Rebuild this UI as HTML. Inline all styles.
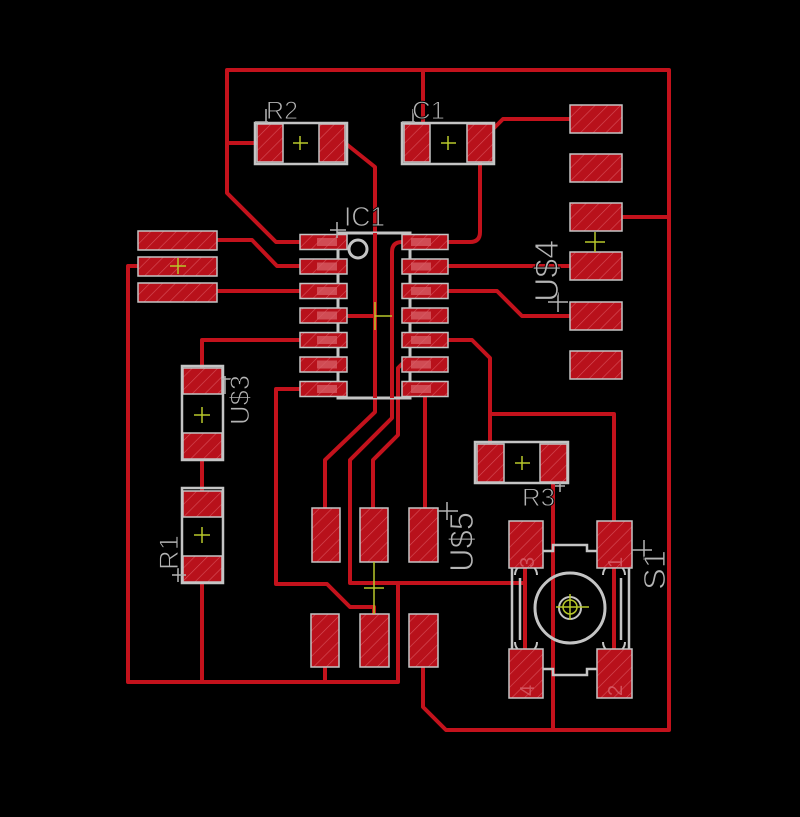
<!DOCTYPE html>
<html><head><meta charset="utf-8"><style>
html,body{margin:0;padding:0;background:#000}
svg{display:block}
text{font-family:"Liberation Sans",sans-serif;fill:#b4b4b4}
.lbl{stroke:#000;stroke-width:0.9}
.num{fill:#d8606a;opacity:0.8}
</style></head><body>
<svg width="800" height="817" viewBox="0 0 800 817" xmlns="http://www.w3.org/2000/svg">
<defs>
<pattern id="h" width="9" height="9" patternUnits="userSpaceOnUse" patternTransform="rotate(45)">
<rect width="9" height="9" fill="#b8111b"/>
<line x1="0" y1="0" x2="0" y2="9" stroke="#d8505a" stroke-width="1.2"/>
</pattern>
</defs>
<rect width="800" height="817" fill="#000"/>
<path fill="none" stroke="#c3121c" stroke-width="4" stroke-linecap="round" stroke-linejoin="round" d="M423,667 V707 L446,730 H669 V70 H227 V193 L276,242 H300 M227,143 H257 M423,70 V124 M669,217 H622 M345,143 L375,167 V412 L325,460 V508 M347,316 H375 M492,130 L503,119 H570 M480,162 V232 Q480,242 470,242 H448 M402,242 Q392,242 392,252 V418 L350,460 V583 H525 M525,567 V650 M398,583 V682 H128 V266 H138 M202,682 V582 M325,682 V667 M402,364 L398,368 V435 L373,460 V508 M425,389 V508 M448,266 H570 M448,291 H497 L522,316 H570 M448,340 H472 L490,358 V444 M490,414 H614 V521 M614,568 V649 M553,482 V730 M217,240 H252 L277,266 H300 M217,291 H300 M300,340 H202 V368 M202,459 V491 M300,389 H276 V584 H327 L350,607 H374 V614"/>
<g fill="none" stroke="#c4c4c4" stroke-width="2.5">
<path d="M255,123 h92 v41 h-92z M402,123 h92 v41 h-92z M475,442 h93 v41 h-93z M182,366 h41 v94 h-41z M182,488 h41 v95 h-41z"/>
<rect x="338" y="233" width="72" height="165" stroke-width="3"/>
<circle cx="358" cy="249" r="9" stroke-width="3"/>
<path d="M543,551 H553 V545 H587 V551 H597 M543,669 H553 V675 H587 V669 H597 M512,568 V649 M520,578 V640 M629,568 V649 M621,578 V640"/>
<circle cx="570" cy="608" r="35" stroke-width="3"/>
<circle cx="570" cy="608" r="11" stroke-width="2"/>
<path stroke-width="2" d="M515,575 A11,11 0 0 1 537,575 M603,575 A11,11 0 0 1 625,575 M515,642 A11,11 0 0 0 537,642 M603,642 A11,11 0 0 0 625,642"/>
</g>
<g fill="url(#h)" stroke="#c4c4c4" stroke-width="1.5">
<path d="M257,124h26v38h-26z M319,124h26v38h-26z M404,124h26v38h-26z M467,124h26v38h-26z M477,444h27v38h-27z M540,444h27v38h-27z"/>
<path d="M183,368h39v26h-39z M183,433h39v26h-39z M183,491h39v26h-39z M183,556h39v26h-39z"/>
<path d="M570,105h52v28h-52z M570,154h52v28h-52z M570,203h52v28h-52z M570,252h52v28h-52z M570,302h52v28h-52z M570,351h52v28h-52z"/>
<path d="M138,231h79v19h-79z M138,257h79v19h-79z M138,283h79v19h-79z"/>
<path d="M300,234.5h47v15h-47z M300,259h47v15h-47z M300,283.5h47v15h-47z M300,308h47v15h-47z M300,332.5h47v15h-47z M300,357h47v15h-47z M300,381.5h47v15h-47z"/>
<path d="M402,234.5h46v15h-46z M402,259h46v15h-46z M402,283.5h46v15h-46z M402,308h46v15h-46z M402,332.5h46v15h-46z M402,357h46v15h-46z M402,381.5h46v15h-46z"/>
<path d="M312,508h28v54h-28z M360,508h28v54h-28z M409,508h29v54h-29z M311,614h28v53h-28z M360,614h29v53h-29z M409,614h29v53h-29z"/>
<path d="M509,521h34v47h-34z M597,521h35v47h-35z M509,649h34v49h-34z M597,649h35v49h-35z"/>
</g>
<path fill="#d86068" opacity="0.75" d="M317,238h20v8h-20z M317,262.5h20v8h-20z M317,287h20v8h-20z M317,311.5h20v8h-20z M317,336h20v8h-20z M317,360.5h20v8h-20z M317,385h20v8h-20z M411,238h20v8h-20z M411,262.5h20v8h-20z M411,287h20v8h-20z M411,311.5h20v8h-20z M411,336h20v8h-20z M411,360.5h20v8h-20z M411,385h20v8h-20z"/>
<path fill="none" stroke="#c3121c" stroke-width="4" d="M375,233 V398 M392,252 V398"/>
<g stroke="#b8c82a" stroke-width="1.5" fill="none">
<path d="M293,143 H308 M300,136 V150 M441,143 H456 M448,136 V150 M515,463 H530 M522,456 V470 M194,415 H210 M202,407 V423 M194,535 H210 M202,527 V543 M170,266 H186 M178,258 V274 M375,316 H392 M375,302 V330 M585,242 H605 M595,232 V252 M364,588 H384 M374,562 V614 M556,607 H589 M570,594 V620"/>
<circle cx="570" cy="607" r="7"/>
</g>
<path stroke="#b4b4b4" stroke-width="1.5" fill="none" d="M255,122 H268 M266,109 V123 M402,122 H415 M413,109 V123 M330,230 H346 M337,222 V238 M225,376 V394 M222,379 H236 M178,568 V582 M172,575 H186 M437,511 H458 M447,502 V520 M548,302 H568 M558,292 V312 M632,550 H652 M644,540 V560 M555,486 H565 M560,482 V492"/>
<text class="lbl" x="266" y="119" font-size="25" textLength="32" lengthAdjust="spacingAndGlyphs">R2</text>
<text class="lbl" x="412" y="119" font-size="25" textLength="33" lengthAdjust="spacingAndGlyphs">C1</text>
<text class="lbl" x="344" y="226" font-size="28" textLength="41" lengthAdjust="spacingAndGlyphs">IC1</text>
<text class="lbl" x="522" y="506" font-size="25" textLength="33" lengthAdjust="spacingAndGlyphs">R3</text>
<text class="lbl" transform="translate(249,425) rotate(-90)" font-size="27" textLength="50" lengthAdjust="spacingAndGlyphs">U$3</text>
<text class="lbl" transform="translate(558,302) rotate(-90)" font-size="33" textLength="62" lengthAdjust="spacingAndGlyphs">U$4</text>
<text class="lbl" transform="translate(473,572) rotate(-90)" font-size="33" textLength="60" lengthAdjust="spacingAndGlyphs">U$5</text>
<text class="lbl" transform="translate(178,570) rotate(-90)" font-size="27" textLength="35" lengthAdjust="spacingAndGlyphs">R1</text>
<text class="lbl" transform="translate(665,590) rotate(-90)" font-size="31" textLength="40" lengthAdjust="spacingAndGlyphs">S1</text>
<text class="num" transform="translate(534,568) rotate(-90)" font-size="20">3</text>
<text class="num" transform="translate(622,568) rotate(-90)" font-size="20">1</text>
<text class="num" transform="translate(534,696) rotate(-90)" font-size="20">4</text>
<text class="num" transform="translate(622,696) rotate(-90)" font-size="20">2</text>
</svg>
</body></html>
